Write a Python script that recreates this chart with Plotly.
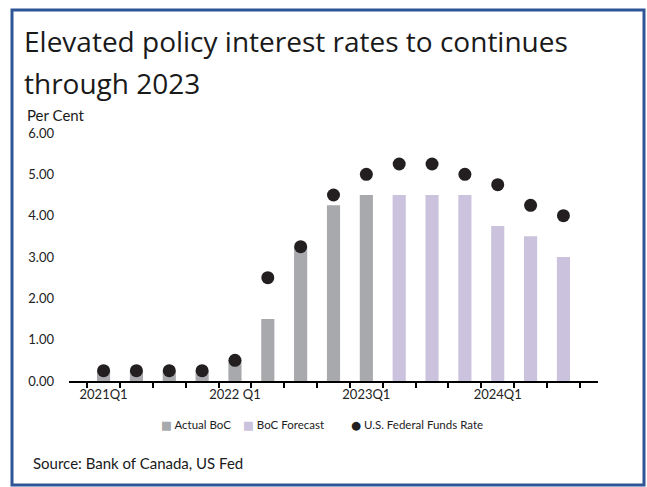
import plotly.graph_objects as go

# ---- data ----
quarters = ["2021Q1", "2021Q2", "2021Q3", "2021Q4",
            "2022Q1", "2022Q2", "2022Q3", "2022Q4",
            "2023Q1", "2023Q2", "2023Q3", "2023Q4",
            "2024Q1", "2024Q2", "2024Q3"]
tick_labels = ["2021Q1", "", "", "", "2022 Q1", "", "", "",
               "2023Q1", "", "", "", "2024Q1", "", ""]
actual_boc = [0.25, 0.25, 0.25, 0.25, 0.50, 1.50, 3.25, 4.25, 4.50,
              None, None, None, None, None, None]
boc_forecast = [None, None, None, None, None, None, None, None, None,
                4.50, 4.50, 4.50, 3.75, 3.50, 3.00]
fed_funds = [0.25, 0.25, 0.25, 0.25, 0.50, 2.50, 3.25, 4.50, 5.00,
             5.25, 5.25, 5.00, 4.75, 4.25, 4.00]
y_ticks = [0, 1, 2, 3, 4, 5, 6]
series_names = ["Actual BoC", "BoC Forecast", "U.S. Federal Funds Rate"]
series_colors = ["#A7A9AC", "#CBC3DD", "#231F20"]
title_lines = ["Elevated policy interest rates to continues", "through 2023"]

# ---- layout geometry (pixels) ----
W, H = 647, 487
L, R, T, B = 69, W - 598, 133, H - 381
PW, PH = W - L - R, H - T - B


def px(x):
    return (x - L) / PW


def py(y):
    return (H - B - y) / PH


fig = go.Figure()
fig.add_trace(go.Bar(x=quarters, y=actual_boc, name=series_names[0],
                     marker=dict(color=series_colors[0], line=dict(width=0)),
                     width=0.4, showlegend=False))
fig.add_trace(go.Bar(x=quarters, y=boc_forecast, name=series_names[1],
                     marker=dict(color=series_colors[1], line=dict(width=0)),
                     width=0.4, showlegend=False))
fig.add_trace(go.Scatter(x=quarters, y=fed_funds, name=series_names[2],
                         mode="markers", showlegend=False,
                         marker=dict(color=series_colors[2], size=13)))

fig.update_layout(
    width=W, height=H,
    margin=dict(l=L, r=R, t=T, b=B, autoexpand=False),
    paper_bgcolor="white", plot_bgcolor="white",
    barmode="overlay",
    showlegend=False,
    xaxis=dict(type="category", categoryorder="array", categoryarray=quarters,
               tickmode="array", tickvals=quarters, ticktext=tick_labels,
               tickson="boundaries", ticks="outside", ticklen=5, tickwidth=1.5,
               tickcolor="#000000", showline=True, linecolor="#000000",
               linewidth=2, showgrid=False, zeroline=False,
               tickangle=0,
               tickfont=dict(family="Lato", size=13, color="#222222")),
    yaxis=dict(range=[0, 6], tickmode="array", tickvals=y_ticks,
               tickformat=".2f", showgrid=False, zeroline=False,
               showline=False, ticks="", ticklabelstandoff=14,
               tickfont=dict(family="Lato", size=13, color="#222222")),
    font=dict(family="Lato"),
)

# title (two lines)
for line, ymid in zip(title_lines, [41, 83]):
    fig.add_annotation(xref="paper", yref="paper", x=px(22), y=py(ymid),
                       xanchor="left", yanchor="middle", showarrow=False,
                       text=line,
                       font=dict(family="Open Sans", size=28, color="#1A1A1A"))

fig.add_annotation(xref="paper", yref="paper", x=px(25), y=py(115),
                   xanchor="left", yanchor="middle", showarrow=False,
                   text="Per Cent",
                   font=dict(family="Lato", size=15, color="#1A1A1A"))
fig.add_annotation(xref="paper", yref="paper", x=px(31), y=py(463),
                   xanchor="left", yanchor="middle", showarrow=False,
                   text="Source: Bank of Canada, US Fed",
                   font=dict(family="Lato", size=15, color="#1A1A1A"))

# legend (manual)
legend_glyphs = ["\u25A0", "\u25A0", "\u25CF"]
for name, color, glyph, xleft in zip(series_names, series_colors,
                                     legend_glyphs, [159, 241, 349]):
    fig.add_annotation(xref="paper", yref="paper", x=px(xleft), y=py(425),
                       xanchor="left", yanchor="middle", showarrow=False,
                       text=f'<span style="color:{color};font-family:DejaVu Sans">{glyph}</span> {name}',
                       font=dict(family="Lato", size=11.5, color="#222222"))

fig.add_shape(type="rect", xref="paper", yref="paper",
              x0=px(12), x1=px(644), y0=py(485), y1=py(10),
              line=dict(color="#2E5597", width=3), layer="above")

fig.write_html("out.html", config={"displayModeBar": False})
